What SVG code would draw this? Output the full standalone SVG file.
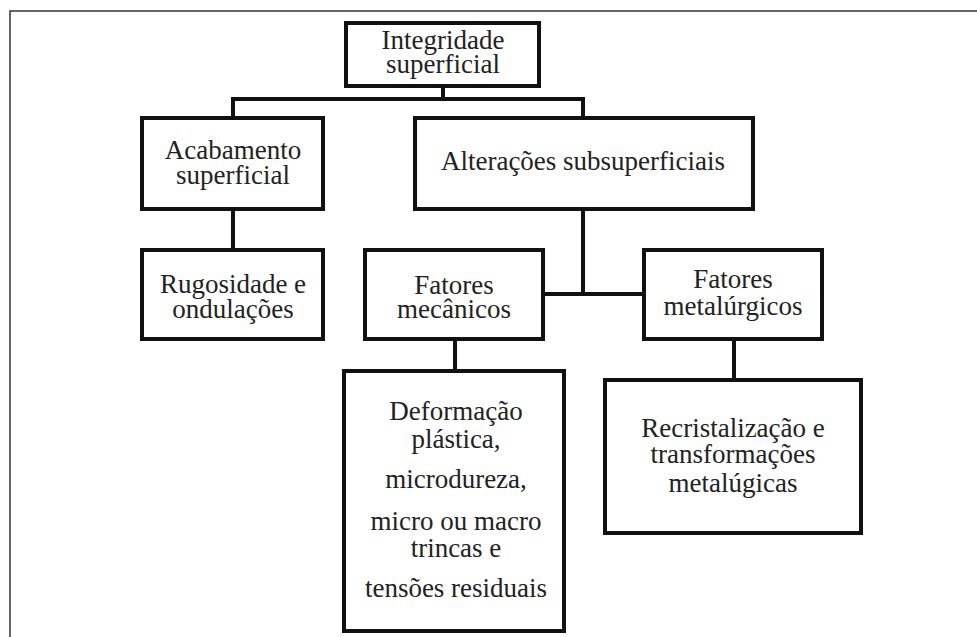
<svg xmlns="http://www.w3.org/2000/svg" width="977" height="637" viewBox="0 0 977 637">
<style>
.box{fill:#fff;stroke:#111;stroke-width:4}
.ln{fill:none;stroke:#111;stroke-width:4}
.frame{fill:none;stroke:#333;stroke-width:1.5}
text{font-family:"Liberation Serif","Times New Roman",serif;font-size:27px;fill:#222;text-anchor:middle}
</style>
<rect width="977" height="637" fill="#fff"/>
<path class="frame" d="M10 637 V11 H977"/>
<g id="connectors">
<path class="ln" d="M443 88 V99 M233 99 H583 M233 97 V118 M583 97 V118"/>
<path class="ln" d="M233 211 V250"/>
<path class="ln" d="M583 211 V294 M545 294 H642"/>
<path class="ln" d="M455 341 V371"/>
<path class="ln" d="M734 341 V380"/>
</g>
<g id="integridade">
<rect class="box" x="346" y="23" width="193" height="63"/>
<text x="443" y="49">Integridade</text>
<text x="443" y="73">superficial</text>
</g>
<g id="acabamento">
<rect class="box" x="142" y="118" width="181" height="91"/>
<text x="233" y="159">Acabamento</text>
<text x="233" y="184">superficial</text>
</g>
<g id="alteracoes">
<rect class="box" x="415" y="118" width="338" height="91"/>
<text x="583" y="170">Alterações subsuperficiais</text>
</g>
<g id="rugosidade">
<rect class="box" x="142" y="250" width="181" height="89"/>
<text x="233" y="293">Rugosidade e</text>
<text x="233" y="318">ondulações</text>
</g>
<g id="mecanicos">
<rect class="box" x="365" y="250" width="178" height="89"/>
<text x="454" y="294">Fatores</text>
<text x="454" y="318">mecânicos</text>
</g>
<g id="metalurgicos">
<rect class="box" x="644" y="250" width="178" height="89"/>
<text x="733" y="288">Fatores</text>
<text x="733" y="315">metalúrgicos</text>
</g>
<g id="deformacao">
<rect class="box" x="344" y="371" width="220" height="260"/>
<text x="456" y="420">Deformação</text>
<text x="456" y="448">plástica,</text>
<text x="456" y="488">microdureza,</text>
<text x="456" y="530">micro ou macro</text>
<text x="456" y="557">trincas e</text>
<text x="456" y="597">tensões residuais</text>
</g>
<g id="recristalizacao">
<rect class="box" x="605" y="380" width="256" height="153"/>
<text x="733" y="437">Recristalização e</text>
<text x="733" y="463">transformações</text>
<text x="733" y="492">metalúgicas</text>
</g>
</svg>
